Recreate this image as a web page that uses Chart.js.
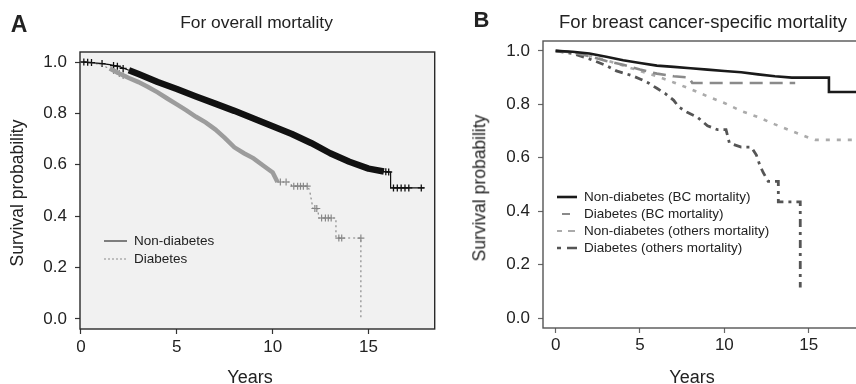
<!DOCTYPE html>
<html>
<head>
<meta charset="utf-8">
<script src="https://cdn.jsdelivr.net/npm/chart.js@4.4.1/dist/chart.umd.min.js"></script>
<style>
  body { margin: 0; width: 856px; height: 384px; overflow: hidden; background: #fff; position: relative;
         font-family: 'Liberation Sans', Arial, Helvetica, sans-serif; color: #222; }
  canvas { position: absolute; top: 0; }
  #chartA { left: 0; }
  #chartB { left: 460px; }
  .lbl { position: absolute; white-space: nowrap; line-height: 1; transform: translate(-50%, -50%); }
  .rot { transform: translate(-50%, -50%) rotate(-90deg); }
  .tag { font-weight: bold; }
</style>
</head>
<body>
<canvas id="chartA" width="440" height="384"></canvas>
<canvas id="chartB" width="430" height="384"></canvas>

<div class="lbl tag" style="left:19px;top:23.5px;font-size:23px">A</div>
<div class="lbl tag" style="left:481.5px;top:20px;font-size:22px">B</div>
<div class="lbl" style="left:256.5px;top:23px;font-size:17.4px">For overall mortality</div>
<div class="lbl" style="left:703px;top:21.5px;font-size:18.5px">For breast cancer-specific mortality</div>
<div class="lbl rot" style="left:18px;top:192.5px;font-size:17.5px">Survival probability</div>
<div class="lbl rot" style="left:480px;top:187.5px;font-size:17.5px">Survival probability</div>
<div class="lbl" style="left:250px;top:376.5px;font-size:18px">Years</div>
<div class="lbl" style="left:692px;top:376.5px;font-size:18px">Years</div>

<script>
// tick labels shared by both panels
const yearTicks = [0, 5, 10, 15];
const survTicks = [0, 0.2, 0.4, 0.6, 0.8, 1.0];

// Panel A: overall mortality (curve points; repeated years are vertical drops)
const labelsA = ['Non-diabetes', 'Diabetes'];
const nonDiabYearsA = [0, 0.5, 1, 1.5, 2, 2.5, 3, 4, 5, 6, 7, 8, 9, 10, 11, 12, 13, 14, 15, 15.8,
                       16.15, 16.15, 17.9];
const nonDiabSurvA = [1.0, 0.998, 0.995, 0.99, 0.982, 0.968, 0.953, 0.922, 0.895, 0.866, 0.838, 0.81,
                      0.78, 0.75, 0.72, 0.685, 0.645, 0.612, 0.585, 0.574, 0.572, 0.51, 0.51];
const nonDiabCensorYearsA = [0.15, 0.35, 0.55, 1.1, 1.7, 1.9, 2.2, 15.9, 16.05,
                             16.3, 16.5, 16.7, 16.9, 17.1, 17.75];
const nonDiabCensorSurvA = [1.0, 0.999, 0.998, 0.994, 0.986, 0.984, 0.975, 0.573, 0.572,
                            0.51, 0.51, 0.51, 0.51, 0.51, 0.51];

const diabYearsA = [0, 0.5, 1, 1.5, 2, 2.5, 3, 3.5, 4, 4.5, 5, 5.5, 6, 6.5, 7, 7.5, 8, 8.5, 9, 9.5,
                    10, 10.25, 10.9, 11.0, 11.85, 11.95, 12.1, 12.35, 12.4, 13.3, 13.3, 14.6, 14.6];
const diabSurvA = [1.0, 0.998, 0.99, 0.975, 0.955, 0.938, 0.922, 0.903, 0.882, 0.858, 0.835, 0.812,
                   0.787, 0.765, 0.738, 0.705, 0.668, 0.645, 0.625, 0.597, 0.57, 0.533, 0.533, 0.517,
                   0.517, 0.49, 0.43, 0.43, 0.393, 0.393, 0.315, 0.315, 0.0];
const diabCensorYearsA = [1.7, 2.0, 2.2, 10.4, 10.7, 11.1, 11.3, 11.45, 11.6, 11.8, 12.2, 12.3,
                          12.55, 12.75, 12.9, 13.05, 13.45, 13.6, 14.6];
const diabCensorSurvA = [0.967, 0.955, 0.948, 0.533, 0.533, 0.517, 0.517, 0.517, 0.517, 0.517, 0.43, 0.43,
                         0.393, 0.393, 0.393, 0.393, 0.315, 0.315, 0.315];

// Panel B: breast cancer-specific vs other mortality
const labelsB = ['Non-diabetes (BC mortality)', 'Diabetes (BC mortality)',
                 'Non-diabetes (others mortality)', 'Diabetes (others mortality)'];
const ndBcYears = [0, 1, 2, 3, 4, 5, 6, 7, 8, 9, 10, 11, 12, 13, 14, 16.2, 16.2, 19.8];
const ndBcSurv = [1.0, 0.997, 0.99, 0.978, 0.965, 0.955, 0.945, 0.94, 0.935, 0.93, 0.925, 0.92,
                  0.912, 0.905, 0.9, 0.9, 0.846, 0.846];
const dBcYears = [0, 1, 2, 3, 4, 5, 6, 7, 7.9, 8.1, 14.2];
const dBcSurv = [1.0, 0.995, 0.98, 0.962, 0.948, 0.93, 0.915, 0.905, 0.9, 0.88, 0.88];
const ndOtherYears = [0, 1, 2, 3, 4, 5, 6, 7, 8, 9, 10, 11, 12, 13, 14, 15, 15.4, 19.8];
const ndOtherSurv = [1.0, 0.995, 0.982, 0.965, 0.945, 0.925, 0.905, 0.882, 0.857, 0.83, 0.805, 0.775,
                     0.752, 0.725, 0.7, 0.675, 0.667, 0.667];
const dOtherYears = [0, 1, 2, 3, 3.6, 4.5, 5, 5.5, 6, 6.5, 7, 7.3, 7.8, 8.4, 9, 9.6, 10.1, 10.3,
                     11.0, 11.6, 11.9, 12.1, 12.3, 12.6, 13.2, 13.2, 14.5, 14.5];
const dOtherSurv = [1.0, 0.99, 0.97, 0.945, 0.925, 0.908, 0.895, 0.88, 0.86, 0.84, 0.815, 0.79, 0.77,
                    0.752, 0.72, 0.705, 0.705, 0.655, 0.64, 0.64, 0.61, 0.573, 0.545, 0.512, 0.512,
                    0.435, 0.435, 0.115];

const FONT = "'Liberation Sans', Arial, Helvetica, sans-serif";
Chart.defaults.font.family = FONT;
Chart.defaults.color = '#222';

const pts = (xs, ys) => xs.map((x, i) => ({ x: x, y: ys[i] }));

// fill and outline the plotting box
const framePlugin = {
  id: 'frame',
  beforeDraw(chart, args, opts) {
    if (!opts.fill) return;
    const a = chart.chartArea, ctx = chart.ctx;
    ctx.save();
    ctx.fillStyle = opts.fill;
    ctx.fillRect(a.left, a.top, a.right - a.left, a.bottom - a.top);
    ctx.restore();
  },
  afterDraw(chart, args, opts) {
    const a = chart.chartArea, ctx = chart.ctx;
    ctx.save();
    ctx.strokeStyle = opts.color;
    ctx.lineWidth = opts.width;
    ctx.strokeRect(a.left, a.top, a.right - a.left, a.bottom - a.top);
    ctx.restore();
  }
};

// small legend drawn inside the plot
const kmLegend = {
  id: 'kmLegend',
  afterDraw(chart, args, o) {
    const ctx = chart.ctx;
    o.items.forEach((it, i) => {
      const ds = chart.data.datasets[it.index];
      const y = o.y + i * o.gap;
      ctx.save();
      ctx.strokeStyle = it.color || ds.borderColor;
      ctx.lineWidth = it.width;
      ctx.setLineDash(it.dash || []);
      ctx.beginPath();
      ctx.moveTo(o.x, y);
      ctx.lineTo(o.x + o.len, y);
      ctx.stroke();
      ctx.setLineDash([]);
      ctx.fillStyle = '#222';
      ctx.font = o.size + 'px ' + FONT;
      ctx.textBaseline = 'middle';
      ctx.fillText(ds.label, o.x + o.len + o.textGap, y + 0.5);
      ctx.restore();
    });
  }
};

function makeScales(o) {
  return {
    x: {
      type: 'linear', min: o.xMin, max: o.xMax,
      afterBuildTicks: s => { s.ticks = yearTicks.map(v => ({ value: v })); },
      afterFit: s => { s.height = o.xHeight; },
      grid: { drawOnChartArea: false, tickLength: 5, tickColor: o.frame, tickWidth: 1.2 },
      border: { display: false },
      ticks: { font: { size: 17, lineHeight: 1.2 }, padding: o.xPad, maxRotation: 0, color: '#222' }
    },
    y: {
      type: 'linear', min: o.yMin, max: o.yMax,
      afterBuildTicks: s => { s.ticks = survTicks.map(v => ({ value: v })); },
      afterFit: s => { s.width = o.yWidth; },
      grid: { drawOnChartArea: false, tickLength: 5, tickColor: o.frame, tickWidth: 1.2 },
      border: { display: false },
      ticks: { font: { size: 17 }, padding: 8, color: '#222', callback: v => v.toFixed(1) }
    }
  };
}

const common = {
  type: 'line',
  plugins: [framePlugin, kmLegend]
};

const inBandA = c => c.p0.parsed.x >= 2.4 && c.p1.parsed.x <= 15.8;
const inBandD = c => c.p0.parsed.x >= 1.5 && c.p1.parsed.x <= 10.25;

// Panel A
new Chart(document.getElementById('chartA'), {
  ...common,
  data: {
    datasets: [
      {
        label: labelsA[0], data: pts(nonDiabYearsA, nonDiabSurvA),
        borderColor: '#111', borderWidth: 1.2, pointRadius: 0, tension: 0,
        borderJoinStyle: 'round',
        segment: { borderWidth: c => inBandA(c) ? 6.5 : 1.2 }
      },
      {
        label: labelsA[1], data: pts(diabYearsA, diabSurvA),
        borderColor: '#8c8c8c', borderWidth: 1.1, borderDash: [2, 3], pointRadius: 0, tension: 0,
        segment: {
          borderWidth: c => inBandD(c) ? 4.5 : 1.1,
          borderColor: c => inBandD(c) ? '#9c9c9c' : '#808080',
          borderDash: c => inBandD(c) ? [] : [2, 3]
        }
      },
      {
        label: 'censored', data: pts(nonDiabCensorYearsA, nonDiabCensorSurvA),
        showLine: false, pointStyle: 'cross', pointRadius: 3.5, pointBorderWidth: 1.3,
        borderColor: '#111'
      },
      {
        label: 'censored', data: pts(diabCensorYearsA, diabCensorSurvA),
        showLine: false, pointStyle: 'cross', pointRadius: 3.5, pointBorderWidth: 1.2,
        borderColor: '#888'
      }
    ]
  },
  options: {
    responsive: false, animation: false, events: [],
    layout: { padding: { left: 0, top: 52, right: 2, bottom: 0 } },
    scales: makeScales({ xMin: -0.05, xMax: 18.45, yMin: -0.039, yMax: 1.039,
                         xHeight: 55, yWidth: 80, xPad: 3, frame: '#333' }),
    plugins: {
      legend: { display: false }, tooltip: { enabled: false },
      frame: { fill: '#f1f1f1', color: '#2a2a2a', width: 1.4 },
      kmLegend: {
        x: 104, y: 241, gap: 18, len: 23, textGap: 7, size: 13.5,
        items: [
          { index: 0, width: 1.2, color: '#333' },
          { index: 1, width: 1.2, dash: [2, 2] }
        ]
      }
    }
  }
});

// Panel B
new Chart(document.getElementById('chartB'), {
  ...common,
  data: {
    datasets: [
      { label: labelsB[0], data: pts(ndBcYears, ndBcSurv), borderColor: '#1a1a1a',
        borderWidth: 2.6, pointRadius: 0, tension: 0 },
      { label: labelsB[1], data: pts(dBcYears, dBcSurv), borderColor: '#8a8a8a',
        borderWidth: 2.6, borderDash: [13, 7], pointRadius: 0, tension: 0 },
      { label: labelsB[2], data: pts(ndOtherYears, ndOtherSurv), borderColor: '#ababab',
        borderWidth: 2.6, borderDash: [4, 7], pointRadius: 0, tension: 0 },
      { label: labelsB[3], data: pts(dOtherYears, dOtherSurv), borderColor: '#555',
        borderWidth: 2.8, borderDash: [8, 5, 3, 5], pointRadius: 0, tension: 0 }
    ]
  },
  options: {
    responsive: false, animation: false, events: [],
    layout: { padding: { left: 0, top: 41, right: 0, bottom: 0 } },
    scales: makeScales({ xMin: -0.75, xMax: 19.82, yMin: -0.037, yMax: 1.037,
                         xHeight: 56, yWidth: 83, xPad: 2, frame: '#666' }),
    plugins: {
      legend: { display: false }, tooltip: { enabled: false },
      frame: { color: '#555', width: 1.4 },
      kmLegend: {
        x: 97, y: 197, gap: 17, len: 20, textGap: 7, size: 13.5,
        items: [
          { index: 0, width: 2.6 },
          { index: 1, width: 2.2, dash: [0, 5, 8, 20] },
          { index: 2, width: 2.2, dash: [5, 6, 7, 20] },
          { index: 3, width: 2.6, dash: [4, 6, 10, 20] }
        ]
      }
    }
  }
});
</script>
</body>
</html>
